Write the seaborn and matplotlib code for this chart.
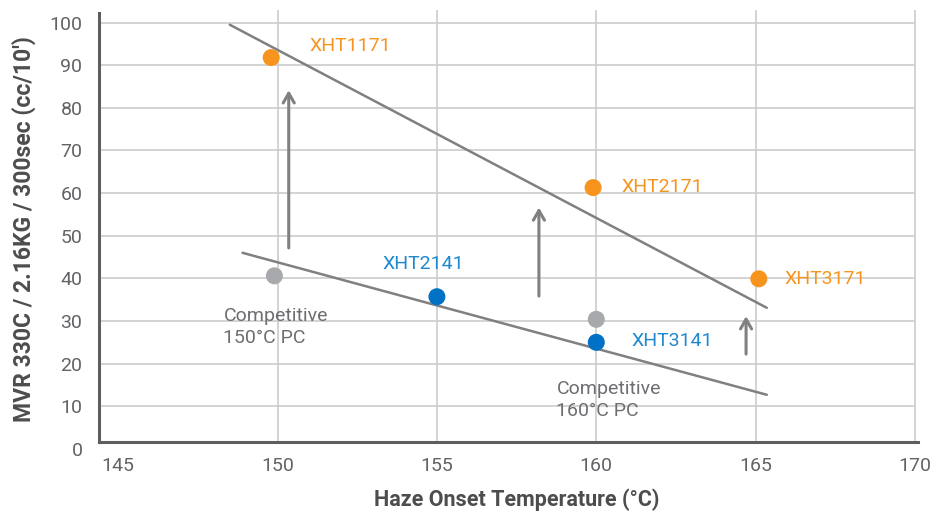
import seaborn as sns
import pandas as pd
from matplotlib import pyplot as plt

# grade data
grades = ['XHT1171', 'XHT2171', 'XHT3171', 'XHT2141', 'XHT3141', 'Competitive\n150°C PC', 'Competitive\n160°C PC']
haze = [149.8, 159.9, 165.1, 155.0, 160.0, 149.9, 160.0]
mvr = [91.8, 61.3, 39.9, 35.7, 25.0, 40.6, 30.4]
family = ['x71', 'x71', 'x71', 'x41', 'x41', 'comp', 'comp']

# label anchors
label_x = [151.0, 160.8, 165.9, 153.3, 161.1, 148.3, 158.75]
label_y = [94.4, 61.4, 39.9, 43.4, 25.3, 28.6, 11.5]

# trend lines
upper_x = [148.5, 165.35]
upper_y = [99.5, 33.1]
lower_x = [148.9, 165.35]
lower_y = [46.0, 12.7]

# arrows: x, start, end
arrow_x = [150.35, 158.2, 164.7]
arrow_from = [46.5, 35.2, 21.6]
arrow_to = [84.8, 57.3, 31.8]

x_ticks = [145, 150, 155, 160, 165, 170]
y_ticks = [0, 10, 20, 30, 40, 50, 60, 70, 80, 90, 100]

cdict = {'x71': '#F7941D', 'x41': '#0072C6', 'comp': '#A7A9AC'}
text_colors = {'x71': '#F7941D', 'x41': '#1E88D0', 'comp': '#6D6E71'}

df = pd.DataFrame({'Grade': grades, 'Haze': haze, 'MVR': mvr, 'Family': family})

sns.set_style('white')
fam = ['Roboto', 'DejaVu Sans']
plt.rcParams['font.family'] = fam

fig, ax = plt.subplots(figsize=(9.35, 5.16), dpi=100)
fig.subplots_adjust(left=0.106, right=0.982, top=0.981, bottom=0.13)

y_top = 103
x_base = 1.65  # the x axis sits a bit above zero

ax.vlines(x_ticks[1:], x_base, y_top, color='#CCCCCC', lw=1.2, zorder=0)
ax.hlines(y_ticks[1:], 144.4, 170, color='#CCCCCC', lw=1.2, zorder=0)

ax.plot(upper_x, upper_y, color='#808080', lw=1.8, zorder=2)
ax.plot(lower_x, lower_y, color='#808080', lw=1.8, zorder=2)

for xa, y0, y1 in zip(arrow_x, arrow_from, arrow_to):
    ax.annotate('', xy=(xa, y1), xytext=(xa, y0),
                arrowprops=dict(arrowstyle='->,head_length=0.7,head_width=0.4',
                                color='#808080', lw=2.2), zorder=2)

sns.scatterplot(data=df, x='Haze', y='MVR', hue='Family', palette=cdict,
                s=150, edgecolor='none', legend=False, ax=ax, zorder=3)

for g, f, lx, ly in zip(grades, family, label_x, label_y):
    ax.text(lx, ly, g, color=text_colors[f], fontsize=14, ha='left', va='center',
            linespacing=1.3, family=fam)

ax.set_xlim(144.4, 170.1)
ax.set_ylim(0, y_top)
ax.set_xticks(x_ticks)
ax.set_yticks(y_ticks)
ax.tick_params(axis='x', labelsize=14, labelcolor='#626366', length=0, pad=11)
ax.tick_params(axis='y', labelsize=14, labelcolor='#626366', length=0, pad=12)

for side in ['top', 'right']:
    ax.spines[side].set_visible(False)
for side in ['left', 'bottom']:
    ax.spines[side].set_color('#5E5E5E')
    ax.spines[side].set_linewidth(2.2)
ax.spines['bottom'].set_position(('data', x_base))
ax.spines['left'].set_bounds(x_base, 102.3)

ax.set_xlabel('Haze Onset Temperature (°C)', fontsize=15.5, fontweight='bold', color='#4D4D4F')
ax.set_ylabel("MVR 330C / 2.16KG / 300sec (cc/10')", fontsize=16.5, fontweight='bold', color='#4D4D4F', labelpad=10)
ax.xaxis.set_label_coords(0.51, -0.09)

fig.savefig('out.png', dpi=100)
